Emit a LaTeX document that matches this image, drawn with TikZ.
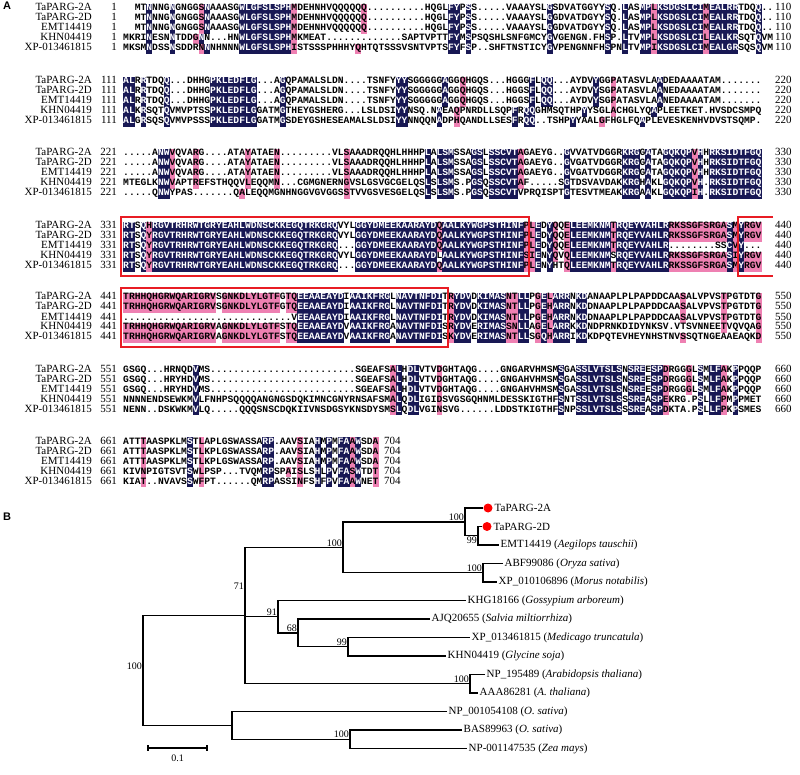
\documentclass[tikz,border=0pt]{standalone}
\usepackage{fontspec}
\setmainfont{Liberation Serif}
\setsansfont{Liberation Sans}
\setmonofont{Liberation Mono}
\definecolor{alnavy}{RGB}{24,24,84}
\definecolor{alpink}{RGB}{238,128,178}
\definecolor{boxred}{RGB}{232,28,36}
\setlength{\fboxsep}{0pt}
\newcommand{\rowstrut}{\rule[-2.6pt]{0pt}{10pt}}
\newcommand{\hlN}[1]{\colorbox{alnavy}{\rowstrut\textcolor{white}{#1}}}
\newcommand{\hlP}[1]{\colorbox{alpink}{\rowstrut#1}}
% one alignment row: name, y, label, first, last, seq x, last x, sequence
\newcommand{\alnrow}[8]{%
  \node[seqname] (#1n) at (92,#2) {#3};
  \node[seqnum] (#1s) at (117,#2) {#4};
  \node[seqrow] (#1q) at (#6,#2) {#8};
  \node[seqend] (#1e) at (#7,#2) {#5};}

\begin{document}
\begin{tikzpicture}[x=1pt, y=-1pt,
    seqname/.style={anchor=base east, inner sep=0pt, font=\fontsize{11}{12}\selectfont},
    seqnum/.style={anchor=base east, inner sep=0pt, font=\fontsize{11}{12}\selectfont},
    seqend/.style={anchor=base west, inner sep=0pt, font=\fontsize{11}{12}\selectfont},
    seqrow/.style={anchor=base west, inner sep=0pt, font=\ttfamily\bfseries\fontsize{9.67}{10}\selectfont},
    redbox/.style={draw=boxred, line width=1.2pt},
    panel/.style={anchor=north west, inner sep=0pt, font=\sffamily\bfseries\fontsize{11}{13}\selectfont},
    treeedge/.style={line width=1.2pt},
    leafname/.style={anchor=west, inner sep=1.5pt, font=\fontsize{11}{12}\selectfont},
    boot/.style={anchor=south east, inner sep=1pt, font=\fontsize{10}{11}\selectfont},
    hitdot/.style={circle, fill=red, inner sep=0pt, minimum size=9pt}]
\useasboundingbox (0,0) rectangle (800,775);

% Panel A: alignment
\node[panel] (pA) at (3,2) {A};

% 1-110
\alnrow{r11}{11}{TaPARG-2A}{1}{110}{134.6}{775}{MT\hlN{N}NNG\hlN{N}GNGG\hlP{S}\hlN{N}AAASG\hlN{WLGFSLSPH}\hlP{M}DEHNHVQQQQQ\hlP{Q}..........HQGL\hlN{FY}P\hlN{S}S.....VAAAYSL\hlN{G}SDVATGGYY\hlN{S}Q.\hlN{L}AS\hlN{MP}\hlP{L}\hlN{KSDGSLCI}\hlP{M}\hlN{EALRR}TDQ\hlN{Q}..}
\alnrow{r12}{21}{TaPARG-2D}{1}{110}{134.6}{775}{MT\hlN{N}NNG\hlN{N}GNGG\hlP{S}\hlN{N}AAASG\hlN{WLGFSLSPH}\hlP{M}DEHNHVQQQQQ\hlP{Q}..........HQGL\hlN{FY}P\hlN{S}S.....VAAAYSL\hlN{G}GDVATDGYY\hlN{S}Q.\hlN{L}AS\hlN{MP}\hlP{L}\hlN{KSDGSLCI}\hlP{M}\hlN{EALRR}TDQ\hlN{Q}..}
\alnrow{r13}{31}{EMT14419}{1}{110}{134.6}{775}{MT\hlN{N}NNG\hlN{N}GNGG\hlP{S}\hlN{N}AAASG\hlN{WLGFSLSPH}\hlP{M}DEHNHVQQQQQ\hlP{Q}..........HQGL\hlN{FY}P\hlN{S}S.....VAAAYSL\hlN{G}GDVATDGYY\hlN{S}Q.\hlN{L}AS\hlN{MP}\hlP{L}\hlN{KSDGSLCI}\hlP{M}\hlN{EALRR}TDQ\hlN{Q}..}
\alnrow{r14}{41}{KHN04419}{1}{110}{123}{775}{MKRI\hlN{N}ESN\hlN{N}TDD\hlP{G}\hlN{N}N...HN\hlN{WLGFSLSPH}\hlP{M}KMEAT.............SAPTVPTT\hlN{FY}M\hlN{S}PSQSHLSNFGMCY\hlN{G}VGENGN.FH\hlN{S}P.\hlN{L}TV\hlN{MP}\hlP{L}\hlN{KSDGSLCI}\hlP{L}\hlN{EALKR}SQT\hlN{Q}VM}
\alnrow{r15}{51}{XP-013461815}{1}{110}{123}{775}{MKSM\hlN{N}DSS\hlN{N}SDDR\hlP{N}\hlN{N}NHNNN\hlN{WLGFSLSPH}\hlP{I}STSSSPHHHY\hlP{Q}HTQTSSSVSNTVPTS\hlN{FY}F\hlN{S}P..SHFTNSTICY\hlN{G}VPENGNNFH\hlN{S}PN\hlN{L}TV\hlN{MP}\hlP{I}\hlN{KSDGSLCI}\hlP{M}\hlN{EALGR}SQS\hlN{Q}VM}

% 111-220
\alnrow{r21}{84}{TaPARG-2A}{111}{220}{123}{775}{\hlN{AL}R\hlN{R}TDQ\hlN{Q}...DHHG\hlN{PKLEDFLG}...A\hlN{G}QPAMALSLDN....TSNFY\hlN{YY}SGGGGG\hlN{A}GG\hlP{Q}HGQS...HGGG\hlN{F}L\hlN{QQ}...AYDV\hlN{Y}GG\hlP{P}ATASVLA\hlN{A}DEDAAAATAM.......}
\alnrow{r22}{94}{TaPARG-2D}{111}{220}{123}{775}{\hlN{AL}R\hlN{R}TDQ\hlN{Q}...DHHG\hlN{PKLEDFLG}...A\hlN{G}QPAMALSLDN....TSNFY\hlN{YY}SGGGGG\hlN{A}GG\hlP{Q}HGQS...HGGS\hlN{F}L\hlN{QQ}...AYDV\hlN{Y}SG\hlP{P}ATASVLA\hlN{A}NEDAAAATAM.......}
\alnrow{r23}{104}{EMT14419}{111}{220}{123}{775}{\hlN{AL}R\hlN{R}TDQ\hlN{Q}...DHHG\hlN{PKLEDFLG}...A\hlN{G}QPAMALSLDN....TSNFY\hlN{YY}SGGGGG\hlN{A}GG\hlP{Q}HGQS...HGGS\hlN{F}L\hlN{QQ}...AYDV\hlN{Y}SG\hlP{P}ATASVLA\hlN{A}NEDAAAATAM.......}
\alnrow{r24}{114}{KHN04419}{111}{220}{123}{775}{\hlN{AL}K\hlN{R}SQT\hlN{Q}VMVPTSS\hlN{PKLEDFLG}GATM\hlN{G}THEYGSHERG...LSLDSI\hlN{YY}NSQ.N\hlN{A}EA\hlP{Q}PNRDLLSQP\hlN{F}R\hlN{QQ}GHMSQTHP\hlN{Y}YSGL\hlP{A}CHGLYQ\hlN{A}PLEETKET.HVSDCSMPQ}
\alnrow{r25}{124}{XP-013461815}{111}{220}{123}{775}{\hlN{AL}G\hlN{R}SQS\hlN{Q}VMVPSSS\hlN{PKLEDFLG}GATM\hlN{G}SDEYGSHESEAMALSLDSI\hlN{YY}NNQQN\hlN{A}DP\hlP{H}QANDLLSES\hlN{F}R\hlN{QQ}..TSHP\hlN{Y}YAAL\hlP{G}FHGLFQ\hlN{A}PLEVESKENHVDVSTSQMP.}

% 221-330
\alnrow{r31}{156}{TaPARG-2A}{221}{330}{123}{775}{.....A\hlN{NW}\hlP{V}QVA\hlP{R}G....ATA\hlP{Y}ATAE\hlP{N}.........VL\hlP{S}AAADRQQHLHHHP\hlN{L}A\hlN{LSM}SSA\hlN{GS}L\hlN{SSCVT}\hlP{A}GAEYG..\hlN{G}VVATVDGGR\hlN{KRG}G\hlN{A}TA\hlN{GQKQP}\hlP{V}\hlN{H}H\hlN{RKSIDTFGQ}}
\alnrow{r32}{166}{TaPARG-2D}{221}{330}{123}{775}{.....A\hlN{NW}\hlP{V}QVA\hlP{R}G....ATA\hlP{Y}ATAE\hlP{N}.........VL\hlP{S}AAADRQQHLHHHP\hlN{L}A\hlN{LSM}SSA\hlN{GS}L\hlN{SSCVT}\hlP{A}GAEYG..\hlN{G}VGATVDGGR\hlN{KRG}G\hlN{A}TA\hlN{GQKQP}\hlP{V}\hlN{H}H\hlN{RKSIDTFGQ}}
\alnrow{r33}{176}{EMT14419}{221}{330}{123}{775}{.....A\hlN{NW}\hlP{V}QVA\hlP{R}G....ATA\hlP{Y}ATAE\hlP{N}.........VL\hlP{S}AAADRQQHLHHHP\hlN{L}A\hlN{LSM}SSA\hlN{GS}L\hlN{SSCVT}\hlP{A}GAEYG..\hlN{G}VGATVDGGR\hlN{KRG}G\hlN{A}TA\hlN{GQKQP}\hlP{V}\hlN{H}H\hlN{RKSIDTFGQ}}
\alnrow{r34}{186}{KHN04419}{221}{330}{123}{775}{MTEGLK\hlN{NW}\hlP{V}APT\hlP{R}EFSTHQQV\hlP{L}EQQM\hlP{N}...CGMGNERN\hlP{G}VSLGSVGCGELQS\hlN{L}S\hlN{LSM}S.P\hlN{GS}Q\hlN{SSCVT}\hlP{A}F.....S\hlN{G}TDSVAVDAK\hlN{KRG}H\hlN{A}KL\hlN{GQKQP}\hlP{V}\hlN{H}.\hlN{RKSIDTFGQ}}
\alnrow{r35}{196}{XP-013461815}{221}{330}{123}{775}{.....Q\hlN{NW}YPAS.......Q\hlP{A}LEQQMGNHNGGVGVGGS\hlP{S}TVVGSVESGELQS\hlN{L}S\hlN{LSM}S.P\hlN{GS}Q\hlN{SSCVT}VPRQISPT\hlN{G}TESVTMEAK\hlN{KRG}A\hlN{A}KL\hlN{GQKQP}\hlP{I}\hlN{H}.\hlN{RKSIDTFGQ}}

% 331-440
\alnrow{r41}{229}{TaPARG-2A}{331}{440}{123}{775}{\hlN{RT}S\hlN{Q}\hlP{H}\hlN{RGVTRHRWTGRYEAHLWDNSCKKEGQTRKGRQ}VYL\hlN{GGYDMEEKAARAYD}\hlP{Q}\hlN{AALKYWGPSTHINF}\hlP{PL}\hlN{E}D\hlN{Y}\hlP{Q}Q\hlP{E}\hlN{LEEMKNM}\hlP{T}\hlN{RQEYVAHLR}\hlP{RKSSGFSRGA}\hlN{S}\hlP{M}\hlN{Y}\hlP{RGV}}
\alnrow{r42}{239}{TaPARG-2D}{331}{440}{123}{775}{\hlN{RT}S\hlN{Q}\hlP{Y}\hlN{RGVTRHRWTGRYEAHLWDNSCKKEGQTRKGRQ}VYL\hlN{GGYDMEEKAARAYD}\hlP{Q}\hlN{AALKYWGPSTHINF}\hlP{PL}\hlN{E}D\hlN{Y}\hlP{Q}Q\hlP{E}\hlN{LEEMKNM}\hlP{T}\hlN{RQEYVAHLR}\hlP{RKSSGFSRGA}\hlN{S}\hlP{M}\hlN{Y}\hlP{RGV}}
\alnrow{r43}{249}{EMT14419}{331}{440}{123}{775}{\hlN{RT}S\hlN{Q}\hlP{Y}\hlN{RGVTRHRWTGRYEAHLWDNSCKKEGQTRKGRQ}...\hlN{GGYDMEEKAARAYD}\hlP{Q}\hlN{AALKYWGPSTHINF}\hlP{PL}\hlN{E}D\hlN{Y}\hlP{Q}Q\hlP{E}\hlN{LEEMKNM}\hlP{T}\hlN{RQEYVAHLR}........SS\hlN{C}\hlP{V}\hlN{Y}...}
\alnrow{r44}{259}{KHN04419}{331}{440}{123}{775}{\hlN{RT}S\hlN{Q}\hlP{Y}\hlN{RGVTRHRWTGRYEAHLWDNSCKKEGQTRKGRQ}VYL\hlN{GGYDMEEKAARAYD}L\hlN{AALKYWGPSTHINF}\hlP{SI}\hlN{E}N\hlN{Y}\hlP{Q}V\hlP{Q}\hlN{LEEMKNM}S\hlN{RQEYVAHLR}\hlP{RKSSGFSRGA}\hlN{S}\hlP{I}\hlN{Y}\hlP{RGV}}
\alnrow{r45}{269}{XP-013461815}{331}{440}{123}{775}{\hlN{RT}S\hlN{Q}\hlP{Y}\hlN{RGVTRHRWTGRYEAHLWDNSCKKEGQTRKGRQ}...\hlN{GGYDMEEKAARAYD}\hlP{Q}\hlN{AALKYWGPSTHINF}\hlP{PL}\hlN{E}N\hlN{Y}HT\hlP{Q}\hlN{LEEMKNM}\hlP{T}\hlN{RQEYVAHLR}\hlP{RKSSGFSRGA}\hlN{S}\hlP{M}\hlN{Y}\hlP{RGV}}

% 441-550
\alnrow{r51}{300}{TaPARG-2A}{441}{550}{123}{775}{\hlP{TRHHQHGRWQARIGRV}S\hlP{GNKDLYLGTF}G\hlP{TQ}\hlN{EEAAEAYD}I\hlN{AAIKFRG}L\hlN{NAVTNFDI}T\hlP{R}\hlN{YDV}D\hlN{KIMAS}\hlP{NT}\hlN{LL}P\hlP{G}\hlN{E}\hlP{L}\hlN{ARR}N\hlN{KD}ANAAPLPLPAPDDCAA\hlP{S}ALVPVS\hlP{T}PGTDT\hlP{G}}
\alnrow{r52}{310}{TaPARG-2D}{441}{550}{123}{775}{\hlP{TRHHQHGRWQARIGRV}S\hlP{GNKDLYLGTF}G\hlP{TQ}\hlN{EEAAEAYD}I\hlN{AAIKFRG}L\hlN{NAVTNFDI}T\hlP{R}\hlN{YDV}D\hlN{KIMAS}\hlP{NT}\hlN{LL}P\hlP{G}\hlN{E}\hlP{H}\hlN{ARR}N\hlN{KD}DNAAPLPLPAPDDCAA\hlP{S}ALVPVS\hlP{T}PGTDT\hlP{G}}
\alnrow{r53}{320}{EMT14419}{441}{550}{123}{775}{.............................V\hlN{EEAAEAYD}I\hlN{AAIKFRG}L\hlN{NAVTNFDI}T\hlP{R}\hlN{YDV}D\hlN{KIMAS}\hlP{NT}\hlN{LL}P\hlP{G}\hlN{E}\hlP{H}\hlN{ARR}N\hlN{KD}DNAAPLPLPAPDDCAA\hlP{S}ALVPVS\hlP{T}PGTDT\hlP{G}}
\alnrow{r54}{330}{KHN04419}{441}{550}{123}{775}{\hlP{TRHHQHGRWQARIGRV}A\hlP{GNKDLYLGTF}S\hlP{TQ}\hlN{EEAAEAYD}V\hlN{AAIKFRG}A\hlN{NAVTNFDI}S\hlP{R}\hlN{YDV}E\hlN{RIMAS}\hlP{SN}\hlN{LL}A\hlP{G}\hlN{E}\hlP{L}\hlN{ARR}K\hlN{KD}NDPRNKDIDYNKSV.VTSVNNEE\hlP{T}VQVQA\hlP{G}}
\alnrow{r55}{340}{XP-013461815}{441}{550}{123}{775}{\hlP{TRHHQHGRWQARIGRV}A\hlP{GNKDLYLGTF}S\hlP{TQ}\hlN{EEAAEAYD}V\hlN{AAIKFRG}A\hlN{NAVTNFDI}S\hlP{K}\hlN{YDV}E\hlN{RIMAS}\hlP{NT}\hlN{LL}S\hlP{G}\hlN{Q}\hlP{H}\hlN{ARR}I\hlN{KD}KDPQTEVHEYNHSTNV\hlP{S}SQTNGEAAEAQK\hlP{D}}

% 551-660
\alnrow{r61}{372}{TaPARG-2A}{551}{660}{123}{775}{GSGQ...HRNQD\hlN{V}MS.........................SGEAFS\hlP{A}\hlN{L}H\hlN{DL}VTV\hlP{D}GHTAQG....GNGARVHMSM\hlN{S}GA\hlN{SSLVTSLS}N\hlN{SRE}E\hlN{SP}\hlP{D}RGG\hlP{G}L\hlN{S}M\hlN{LF}\hlP{A}K\hlN{P}PQQP}
\alnrow{r62}{382}{TaPARG-2D}{551}{660}{123}{775}{GSGQ...HRYHD\hlN{V}MS.........................SGEAFS\hlP{A}\hlN{L}H\hlN{DL}VTV\hlP{D}GHTAQG....GNGAHVHMSM\hlN{S}GA\hlN{SSLVTSLS}N\hlN{SRE}E\hlN{SP}\hlP{D}RGG\hlP{G}L\hlN{S}M\hlN{LF}\hlP{A}K\hlN{P}PQQP}
\alnrow{r63}{392}{EMT14419}{551}{660}{123}{775}{GSGQ...HRYHD\hlN{V}MS.........................SGEAFS\hlP{A}\hlN{L}H\hlN{DL}VTV\hlP{D}GHTAQG....GNGAHVHMSM\hlN{S}GA\hlN{SSLVTSLS}N\hlN{SRE}E\hlN{SP}\hlP{D}RGG\hlP{G}L\hlN{S}M\hlN{LF}\hlP{A}K\hlN{P}PQQP}
\alnrow{r64}{402}{KHN04419}{551}{660}{123}{775}{NNNNENDSEWKM\hlN{V}LFNHPSQQQQANGNGSDQKIMNCGNYRNSAFSM\hlP{A}\hlN{L}Q\hlN{DL}IGI\hlP{D}SVGSGQHNMLDESSKIGTHF\hlN{S}NT\hlN{SSLVTSLS}S\hlN{SRE}A\hlN{SP}\hlP{E}KRG.P\hlN{S}L\hlN{LF}\hlP{P}M\hlN{P}PMET}
\alnrow{r65}{412}{XP-013461815}{551}{660}{123}{775}{NENN..DSKWKM\hlN{V}LQ.....QQQSNSCDQKIIVNSDGSYKNSDYSM\hlP{S}\hlN{L}Q\hlN{DL}VGI\hlP{N}SVG......LDDSTKIGTHF\hlN{S}NP\hlN{SSLVTSLS}S\hlN{SRE}A\hlN{SP}\hlP{D}KTA.P\hlN{S}L\hlN{LF}\hlP{P}K\hlN{P}SMES}

% 661-704
\alnrow{r71}{444}{TaPARG-2A}{661}{704}{123}{384}{ATT\hlP{T}AASPKLM\hlN{S}T\hlP{L}APLGSWASSA\hlN{RP}.AAV\hlP{S}IA\hlN{H}M\hlN{P}M\hlN{FA}\hlP{A}\hlN{W}SD\hlP{A}}
\alnrow{r72}{454}{TaPARG-2D}{661}{704}{123}{384}{ATT\hlP{T}AASPKLM\hlN{S}T\hlP{L}KPLGSWASSA\hlN{RP}.AAV\hlP{S}IA\hlN{H}M\hlN{P}M\hlN{FA}\hlP{A}\hlN{W}SD\hlP{A}}
\alnrow{r73}{464}{EMT14419}{661}{704}{123}{384}{ATT\hlP{T}AASPKLM\hlN{S}T\hlP{L}KPLGSWASSA\hlN{RP}.AAV\hlP{S}IA\hlN{H}M\hlN{P}M\hlN{FA}\hlP{A}\hlN{W}SD\hlP{A}}
\alnrow{r74}{474}{KHN04419}{661}{704}{123}{384}{KIV\hlP{N}PIGTSVT\hlN{S}W\hlP{L}PSP...TVQM\hlN{RP}SP\hlP{A}I\hlP{S}LS\hlN{H}L\hlN{P}V\hlN{FA}\hlP{S}\hlN{W}TD\hlP{T}}
\alnrow{r75}{484}{XP-013461815}{661}{704}{123}{384}{KIA\hlP{T}..NVAVS\hlN{S}W\hlP{F}PT......QM\hlN{RP}ASSI\hlP{N}FS\hlN{H}F\hlN{P}V\hlN{FA}\hlP{A}\hlN{W}NE\hlP{T}}

% Red frames
\draw[redbox] (121,217) rectangle (529,276);
\draw[redbox] (773,217) -- (738,217) -- (738,276) -- (773,276);
\draw[redbox] (121,288) rectangle (448,347);

% Panel B: tree
\node[panel] (pB) at (3,513) {B};

% leaves
\node[hitdot] (dA) at (488,508) {};
\node[leafname] (tA) at (493,508) {TaPARG-2A};
\node[hitdot] (dD) at (487,526.5) {};
\node[leafname] (tD) at (492,526.5) {TaPARG-2D};
\node[leafname] (tE) at (499,545) {EMT14419 (\textit{Aegilops tauschii})};
\node[leafname] (tABF) at (503,563.5) {ABF99086 (\textit{Oryza sativa})};
\node[leafname] (tXPa) at (497,582) {XP\_010106896 (\textit{Morus notabilis})};
\node[leafname] (tKHG) at (466,600.5) {KHG18166 (\textit{Gossypium arboreum})};
\node[leafname] (tAJQ) at (430,619) {AJQ20655 (\textit{Salvia miltiorrhiza})};
\node[leafname] (tXPb) at (470,637.5) {XP\_013461815 (\textit{Medicago truncatula})};
\node[leafname] (tKHN) at (446,656) {KHN04419 (\textit{Glycine soja})};
\node[leafname] (tNPa) at (485,674.5) {NP\_195489 (\textit{Arabidopsis thaliana})};
\node[leafname] (tAAA) at (478,693) {AAA86281 (\textit{A. thaliana})};
\node[leafname] (tNPb) at (447,711.5) {NP\_001054108 (\textit{O. sativa})};
\node[leafname] (tBAS) at (462,730) {BAS89963 (\textit{O. sativa})};
\node[leafname] (tNPc) at (467,748.5) {NP-001147535 (\textit{Zea mays})};

% inner nodes
\coordinate (n1) at (478,535.75);
\coordinate (n2) at (465,521.9);
\coordinate (n3) at (483,572.75);
\coordinate (n4) at (343,547.3);
\coordinate (n5) at (348,646.75);
\coordinate (n6) at (298,632.9);
\coordinate (n7) at (278,616.7);
\coordinate (n9) at (470,683.75);
\coordinate (n8) at (245,615.5);
\coordinate (n10) at (350,739.25);
\coordinate (n11) at (232,725.4);
\coordinate (root) at (143,670.45);

% branches
\draw[treeedge] (dA.west) -| (n2) |- (n1);
\draw[treeedge] (dD.west) -| (n1) |- (tE.west);
\draw[treeedge] (tABF.west) -| (n3) |- (tXPa.west);
\draw[treeedge] (n2) -| (n4) |- (n3);
\draw[treeedge] (tXPb.west) -| (n5) |- (tKHN.west);
\draw[treeedge] (tAJQ.west) -| (n6) |- (n5);
\draw[treeedge] (tKHG.west) -| (n7) |- (n6);
\draw[treeedge] (tNPa.west) -| (n9) |- (tAAA.west);
\draw[treeedge] (n4) -| (n8) |- (n9);
\draw[treeedge] (n8 |- n7) -- (n7);
\draw[treeedge] (tBAS.west) -| (n10) |- (tNPc.west);
\draw[treeedge] (tNPb.west) -| (n11) |- (n10);
\draw[treeedge] (n8) -| (root) |- (n11);

% bootstrap values
\node[boot] (b2) at (n2) {100};
\node[boot, anchor=north east] (b1) at (n1) {99};
\node[boot] (b4) at (n4) {100};
\node[boot] (b3) at (n3) {100};
\node[boot] (b5) at (n5) {99};
\node[boot] (b6) at (n6) {68};
\node[boot] (b7) at (n7) {91};
\node[boot] (b8) at ([yshift=25pt]n8) {71};
\node[boot] (b9) at (n9) {100};
\node[boot] (b10) at (n10) {100};
\node[boot] (br) at (root) {100};

% scale bar
\coordinate (sbL) at (148,748);
\coordinate (sbR) at (207,748);
\draw[treeedge] (sbL) -- (sbR);
\draw[treeedge] ([yshift=3pt]sbL) -- ([yshift=-3pt]sbL);
\draw[treeedge] ([yshift=3pt]sbR) -- ([yshift=-3pt]sbR);
\node[boot, anchor=north] (sbt) at (177.5,754) {0.1};

\end{tikzpicture}
\end{document}
